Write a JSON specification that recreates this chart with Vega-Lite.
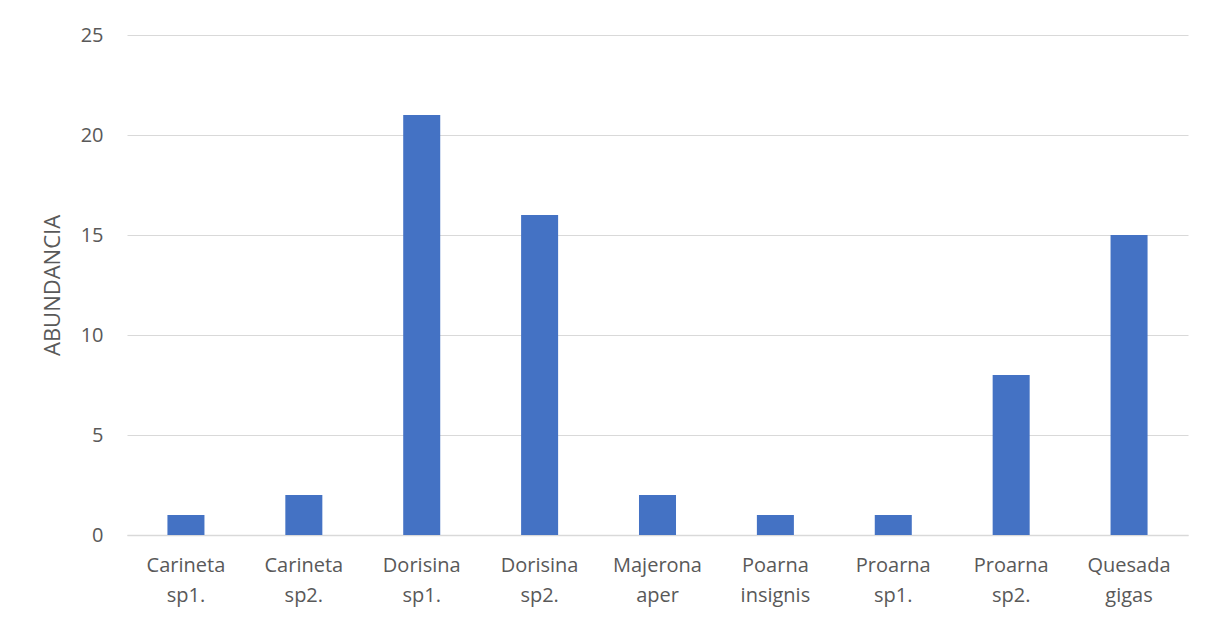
{
  "$schema": "https://vega.github.io/schema/vega-lite/v6.json",
  "width": 1061,
  "height": 500,
  "autosize": {"type": "none"},
  "padding": {"left": 127, "top": 35, "right": 24, "bottom": 87},
  "background": "white",
  "data": {
    "values": [
      {"species": "Carineta sp1.", "abundancia": 1},
      {"species": "Carineta sp2.", "abundancia": 2},
      {"species": "Dorisina sp1.", "abundancia": 21},
      {"species": "Dorisina sp2.", "abundancia": 16},
      {"species": "Majerona aper", "abundancia": 2},
      {"species": "Poarna insignis", "abundancia": 1},
      {"species": "Proarna sp1.", "abundancia": 1},
      {"species": "Proarna sp2.", "abundancia": 8},
      {"species": "Quesada gigas", "abundancia": 15}
    ]
  },
  "config": {
    "view": {"stroke": null},
    "font": "Open Sans"
  },
  "mark": {"type": "bar", "color": "#4472C4"},
  "encoding": {
    "x": {
      "field": "species",
      "type": "nominal",
      "sort": null,
      "scale": {"paddingInner": 0.686, "paddingOuter": 0.343},
      "axis": {
        "title": null,
        "labelAngle": 0,
        "labelExpr": "split(datum.label, ' ')",
        "labelFontSize": 20,
        "labelColor": "#595959",
        "labelLineHeight": 30,
        "labelPadding": 20,
        "ticks": false,
        "domainColor": "#d9d9d9",
        "domainWidth": 1.5,
        "labelFont": "Open Sans"
      }
    },
    "y": {
      "field": "abundancia",
      "type": "quantitative",
      "scale": {"domain": [0, 25]},
      "axis": {
        "title": "ABUNDANCIA",
        "titleFontSize": 22,
        "titleFontWeight": "normal",
        "titleColor": "#595959",
        "titlePadding": 16,
        "values": [0, 5, 10, 15, 20, 25],
        "labelFontSize": 20,
        "labelColor": "#595959",
        "labelPadding": 24,
        "ticks": false,
        "domain": false,
        "gridColor": "#d9d9d9",
        "gridWidth": 1.2
      }
    }
  }
}
